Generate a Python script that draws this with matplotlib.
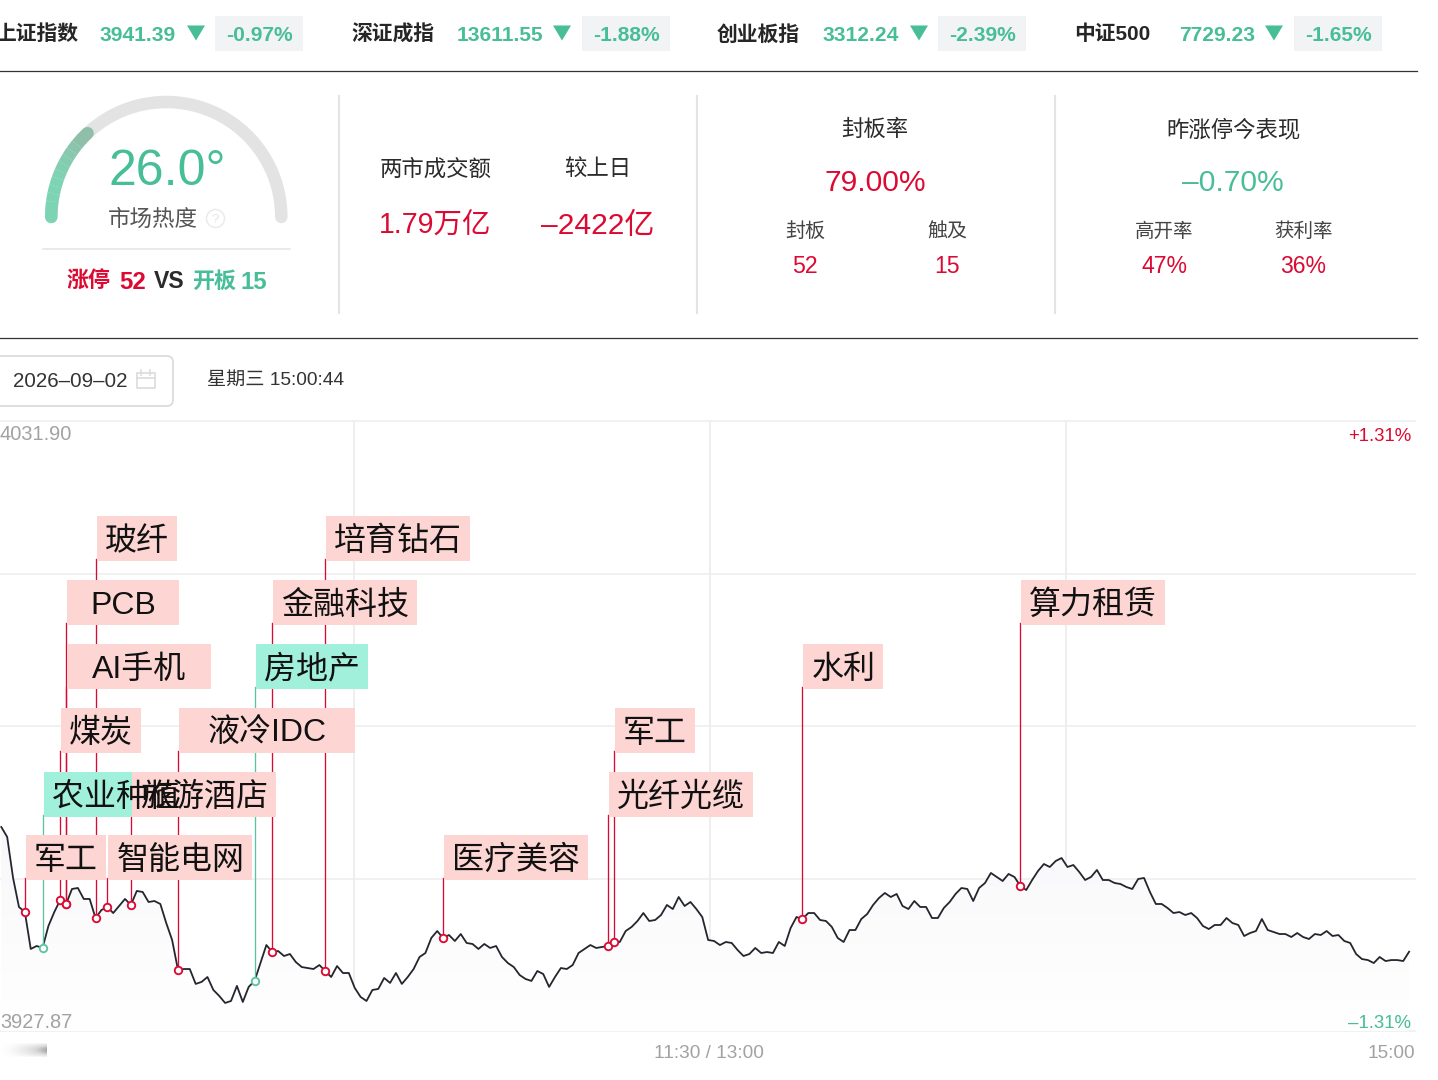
import matplotlib

matplotlib.use("Agg")
import matplotlib.pyplot as plt
import numpy as np
from matplotlib.colors import LinearSegmentedColormap
from matplotlib.patches import FancyBboxPatch, Polygon, Rectangle

plt.rcParams["font.family"] = ["Liberation Sans", "Noto Sans CJK SC", "DejaVu Sans"]

W, H = 1438, 1080
RED = "#dc0a32"
GREEN = "#47bd98"
DARK = "#2b2b2b"
GRAY = "#a2a2a2"
GRID = "#ededed"
RULE = "#e4e4e4"

index_names = ["上证指数", "深证成指", "创业板指", "中证500"]
index_values = ["3941.39", "13611.55", "3312.24", "7729.23"]
index_changes = ["-0.97%", "-1.88%", "-2.39%", "-1.65%"]

heat = 26.0
limit_up = 52
limit_open = 15

price_top = 4031.90
price_bottom = 3927.87
price = [
    3962.66, 3960.96, 3953.97, 3949.02, 3948.16, 3941.86, 3942.37, 3942.03, 3945.78, 3948.16,
    3950.21, 3949.53, 3952.09, 3952.26, 3950.39, 3950.39, 3947.14, 3948.50, 3949.02, 3947.99,
    3949.19, 3950.39, 3949.36, 3951.75, 3951.58, 3949.87, 3950.04, 3949.53, 3946.29, 3943.39,
    3938.27, 3938.44, 3938.44, 3935.90, 3936.24, 3937.08, 3934.87, 3933.85, 3932.65, 3932.99,
    3935.56, 3932.82, 3935.39, 3936.41, 3939.46, 3942.53, 3941.34, 3941.51, 3940.66, 3941.00,
    3939.63, 3938.78, 3938.61, 3938.44, 3939.12, 3938.10, 3937.08, 3938.95, 3937.76, 3937.76,
    3935.22, 3933.68, 3932.99, 3934.87, 3935.04, 3936.91, 3936.07, 3937.76, 3935.90, 3937.08,
    3938.44, 3940.49, 3941.17, 3943.73, 3944.92, 3943.73, 3944.24, 3943.22, 3944.41, 3942.88,
    3942.71, 3941.86, 3942.71, 3942.03, 3942.37, 3940.49, 3939.46, 3938.78, 3937.42, 3936.74,
    3936.41, 3938.10, 3937.59, 3935.39, 3937.08, 3938.61, 3938.44, 3939.12, 3941.17, 3941.86,
    3942.53, 3942.03, 3942.20, 3942.37, 3943.05, 3943.05, 3944.92, 3945.61, 3946.63, 3947.99,
    3946.63, 3946.80, 3947.65, 3949.36, 3948.67, 3950.72, 3949.19, 3949.87, 3948.67, 3947.31,
    3943.39, 3943.22, 3942.53, 3943.05, 3942.88, 3941.68, 3940.66, 3941.00, 3942.03, 3941.17,
    3941.34, 3941.17, 3943.05, 3942.37, 3945.43, 3947.31, 3946.97, 3947.99, 3947.99, 3946.80,
    3946.63, 3945.61, 3943.73, 3943.05, 3945.09, 3945.09, 3946.97, 3947.82, 3949.36, 3950.55,
    3951.41, 3950.72, 3951.24, 3949.19, 3948.67, 3950.04, 3949.02, 3949.02, 3947.14, 3947.14,
    3948.84, 3949.87, 3951.24, 3952.26, 3952.09, 3950.04, 3952.26, 3953.11, 3954.82, 3954.14,
    3953.45, 3954.65, 3954.14, 3952.60, 3951.92, 3953.62, 3955.16, 3956.35, 3955.84, 3956.86,
    3957.37, 3955.84, 3956.18, 3954.99, 3953.62, 3954.14, 3955.33, 3953.62, 3953.62, 3953.11,
    3952.94, 3952.43, 3952.09, 3953.79, 3953.97, 3951.58, 3949.53, 3949.53, 3948.84, 3947.99,
    3948.16, 3947.65, 3947.99, 3947.14, 3945.78, 3945.26, 3945.95, 3945.95, 3947.14, 3946.29,
    3945.95, 3944.07, 3944.58, 3944.92, 3946.97, 3945.09, 3944.75, 3944.41, 3944.41, 3943.90,
    3944.58, 3943.90, 3943.56, 3944.41, 3944.24, 3944.92, 3944.07, 3944.24, 3943.22, 3942.88,
    3941.00, 3940.14, 3939.97, 3939.46, 3940.49, 3939.80, 3939.97, 3939.97, 3939.80, 3941.39,
]

event_labels = [
    "军工", "农业种植", "煤炭", "AI手机", "PCB", "玻纤", "智能电网", "旅游酒店", "液冷IDC",
    "房地产", "金融科技", "培育钻石", "医疗美容", "光纤光缆", "军工", "水利", "算力租赁",
]
event_minutes = [4, 7, 10, 11, 11, 16, 18, 22, 30, 43, 46, 55, 75, 103, 104, 136, 173]
event_up = [1, 0, 1, 1, 1, 1, 1, 1, 1, 0, 1, 1, 1, 1, 1, 1, 1]
event_rows = [0, 1, 2, 3, 4, 5, 0, 1, 2, 3, 4, 5, 0, 1, 2, 3, 4]

ROW_BOTTOMS = [880, 817, 753, 689, 625, 561]
BOX_H = 45
LABEL_PX = 32


def px_text(ax, x, y, s, size, color=DARK, ha="center", weight="normal", **kwargs):
    # y is the middle of the glyphs, baseline sits about 0.36 em below it
    return ax.text(x, y + 0.36 * size, s, fontsize=size * 0.72, color=color, ha=ha, va="baseline",
                   fontweight=weight, **kwargs)


def draw_header(ax):
    for i in range(len(index_names)):
        name_x = [-5, 351, 717, 1074][i]
        value_x = [100, 457, 823, 1179][i]
        px_text(ax, name_x, 33, index_names[i], 20.8, "#262626", "left", "bold")
        px_text(ax, value_x, 33, index_values[i], 21, GREEN, "left", "bold")
        tri_x = [187, 553, 910, 1265][i]
        ax.add_patch(Polygon([(tri_x, 25.5), (tri_x + 18, 25.5), (tri_x + 9, 40.5)], color=GREEN, lw=0))
        pill_x = [215, 582, 938, 1294][i]
        ax.add_patch(Rectangle((pill_x, 16), 88, 35, color="#f2f3f5", lw=0))
        px_text(ax, pill_x + 44, 33, index_changes[i], 21, GREEN, weight="bold")
    ax.plot([0, 1417], [71, 71], color="#333333", lw=0.9)
    ax.plot([0, 1417], [338, 338], color="#333333", lw=0.9)
    for x in [339, 697, 1055]:
        ax.plot([x, x], [96, 313], color=RULE, lw=1.5)


def draw_gauge(ax):
    cx, cy, r = 166.3, 217, 115
    angles = np.radians(np.linspace(180, 0, 181))
    ax.plot(cx + r * np.cos(angles), cy - r * np.sin(angles), color="#e3e3e3", lw=9,
            solid_capstyle="round")
    sweep = heat / 100 * 180
    steps = 12
    for i in range(steps):
        start = 180 - sweep * i / steps
        end = 180 - sweep * (i + 1) / steps
        a = np.radians(np.linspace(start, end, 8))
        t = max(0, i / (steps - 1) - 0.4) / 0.6
        color = (0.49 + 0.07 * t, 0.83 - 0.08 * t, 0.71 - 0.05 * t)
        ax.plot(cx + r * np.cos(a), cy - r * np.sin(a), color=color, lw=9,
                solid_capstyle="round" if i in (0, steps - 1) else "butt")
    px_text(ax, 167, 167, f"{heat:.1f}°", 50, GREEN)
    px_text(ax, 153, 218, "市场热度", 22.5, "#555555")
    ax.plot(215, 218, "o", ms=13, mfc="white", mec="#ebebeb", mew=1.1)
    px_text(ax, 215, 218, "?", 13, "#e4e4e4")
    ax.plot([43, 290], [249, 249], color=RULE, lw=1.1)
    px_text(ax, 67, 280, "涨停", 22, RED, "left", "bold")
    px_text(ax, 119, 280, str(limit_up), 24, RED, "left", "bold")
    px_text(ax, 154, 280, "VS", 23, DARK, "left", "bold")
    px_text(ax, 192, 280, "开板", 22, GREEN, "left", "bold")
    px_text(ax, 241, 280, str(limit_open), 24, GREEN, "left", "bold")


def draw_stats(ax):
    px_text(ax, 436, 168, "两市成交额", 22.4)
    px_text(ax, 598, 168, "较上日", 22.4)
    px_text(ax, 435, 223, "1.79万亿", 28.5, RED)
    px_text(ax, 598, 223, "–2422亿", 30, RED)

    px_text(ax, 875, 128, "封板率", 22.4)
    px_text(ax, 875, 180, "79.00%", 30, RED)
    px_text(ax, 805, 230, "封板", 20, "#444444")
    px_text(ax, 947, 230, "触及", 20, "#444444")
    px_text(ax, 805, 265, "52", 23, RED)
    px_text(ax, 947, 265, "15", 23, RED)

    px_text(ax, 1233, 128, "昨涨停今表现", 22.4)
    px_text(ax, 1233, 180, "–0.70%", 30, GREEN)
    px_text(ax, 1164, 230, "高开率", 19.5, "#444444")
    px_text(ax, 1303, 230, "获利率", 19.5, "#444444")
    px_text(ax, 1164, 265, "47%", 23, RED)
    px_text(ax, 1303, 265, "36%", 23, RED)


def draw_date_row(ax):
    ax.add_patch(FancyBboxPatch((-10, 356), 183, 50, boxstyle="round,pad=0,rounding_size=6",
                                fc="white", ec="#d9d9d9", lw=1.2))
    px_text(ax, 13, 380, "2026–09–02", 20.5, "#333333", "left")
    ax.add_patch(Rectangle((136.5, 373), 18, 15, fc="none", ec="#dcdcdc", lw=1.2))
    ax.plot([136.5, 154.5], [378, 378], color="#dcdcdc", lw=1.2)
    ax.plot([141, 141], [370, 375], color="#dcdcdc", lw=1.2)
    ax.plot([150, 150], [370, 375], color="#dcdcdc", lw=1.2)
    px_text(ax, 207, 378, "星期三 15:00:44", 19.2, "#333333", "left")


def draw_chart(fig):
    # minute 0 lands on pixel 1.3, one minute is 5.89 px
    chart = fig.add_axes([0, 1 - 1031 / H, 1415 / W, 610 / H])
    chart.set_xlim(-0.22, 240.0)
    chart.set_ylim(price_bottom, price_top)
    chart.axis("off")

    for level in np.linspace(price_bottom, price_top, 5):
        chart.axhline(level, color=GRID, lw=1.1, zorder=1, clip_on=False)
    for minute in [59.8, 120.3, 180.8]:
        chart.axvline(minute, color=GRID, lw=1.3, zorder=1)

    minutes = np.arange(len(price))
    fade = LinearSegmentedColormap.from_list("fade", ["#f8f8fa", "#ffffff"])
    gradient = chart.imshow(np.linspace(0, 1, 100)[:, None], cmap=fade, aspect="auto", zorder=2,
                            extent=(0, minutes[-1], price_bottom, max(price)))
    area = Polygon(np.column_stack([np.r_[minutes, minutes[-1], 0],
                                    np.r_[price, price_bottom, price_bottom]]),
                   transform=chart.transData, fc="none", lw=0)
    chart.add_patch(area)
    gradient.set_clip_path(area)
    chart.set_xlim(-0.22, 240.0)
    chart.set_ylim(price_bottom, price_top)

    chart.plot(minutes, price, color="#24262e", lw=1.3, zorder=3, solid_joinstyle="round")
    return chart


def draw_events(chart, ax):
    to_data = chart.transData.inverted()
    for minute, up, row in zip(event_minutes, event_up, event_rows):
        color = RED if up else "#5cc4a2"
        value = price[minute]
        # stem stops at the bottom of its own box, counted in display pixels from the top
        _, stem_top = to_data.transform((0, H - ROW_BOTTOMS[row] + 2))
        chart.plot([minute, minute], [value, stem_top], color=color, lw=0.95, zorder=4)
        chart.plot(minute, value, "o", ms=5.4, mfc="white", mec=color, mew=1.35, zorder=5)

    boxes = []
    for label, minute, up, row in zip(event_labels, event_minutes, event_up, event_rows):
        left, _ = chart.transData.transform((minute, price_bottom))
        width = len(label) * LABEL_PX + 16
        boxes.append((label, left + 1, width, ROW_BOTTOMS[row], up))

    for _, left, width, bottom, up in boxes:
        ax.add_patch(Rectangle((left, bottom - BOX_H), width, BOX_H,
                               color="#fdd6d4" if up else "#a0f0db", lw=0, zorder=3))
    for label, left, width, bottom, _ in boxes:
        px_text(ax, left + width / 2, bottom - BOX_H / 2, label, LABEL_PX, "#111111", zorder=4)


def draw_axis_text(ax):
    px_text(ax, 0, 433, "4031.90", 20, GRAY, "left")
    px_text(ax, 1411, 434, "+1.31%", 18.7, RED, "right")
    px_text(ax, 0, 1021, "3927.87", 20, GRAY, "left")
    px_text(ax, 1411, 1021, "–1.31%", 18.7, GREEN, "right")
    px_text(ax, 709, 1051, "11:30 / 13:00", 19, GRAY)
    px_text(ax, 1415, 1051, "15:00", 19, GRAY, "right")
    # the little blurred-out block at the bottom left
    smudge = LinearSegmentedColormap.from_list("smudge", ["#ffffff", "#ececec", "#d8d8d8", "#a9a9a9"])
    across = np.linspace(0, 1, 48) ** 1.5
    down = np.sin(np.linspace(0.25, np.pi - 0.25, 14))[:, None]
    ax.imshow(across[None, :] * down, cmap=smudge, vmin=0, vmax=1, aspect="auto",
              extent=(0, 47, 1057, 1043), interpolation="bilinear")
    ax.set_xlim(0, W)
    ax.set_ylim(H, 0)


def main():
    fig = plt.figure(figsize=(W / 100, H / 100), dpi=100)
    chart = draw_chart(fig)

    ax = fig.add_axes([0, 0, 1, 1], zorder=5)
    ax.patch.set_alpha(0)
    ax.set_xlim(0, W)
    ax.set_ylim(H, 0)
    ax.axis("off")

    draw_header(ax)
    draw_gauge(ax)
    draw_stats(ax)
    draw_date_row(ax)
    draw_events(chart, ax)
    draw_axis_text(ax)

    fig.savefig("out.png", dpi=100)
    plt.close(fig)


if __name__ == "__main__":
    main()
